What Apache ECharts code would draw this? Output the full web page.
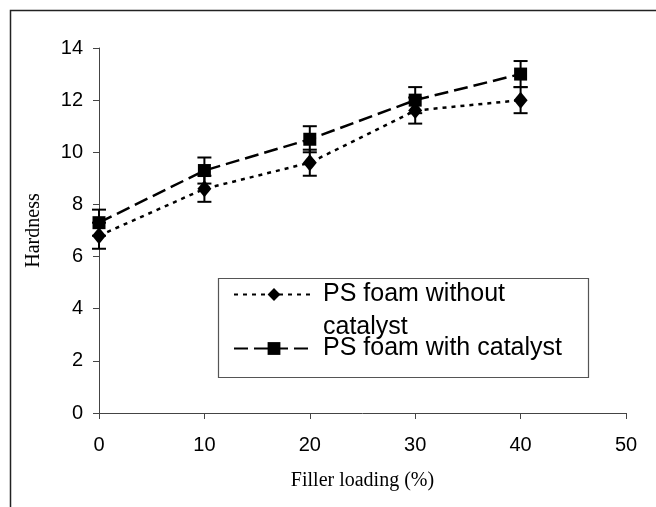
<!DOCTYPE html>
<html>
<head>
<meta charset="utf-8">
<script src="https://cdn.jsdelivr.net/npm/echarts@6/dist/echarts.min.js"></script>
<style>
html, body { margin: 0; padding: 0; background: #fff; }
#chart { width: 656px; height: 507px; }
</style>
</head>
<body>
<div id="chart"></div>
<script>
// values
var loading = [0, 10, 20, 30, 40];
var withoutCat = [6.8, 8.6, 9.6, 11.6, 12.0];
var withCat = [7.3, 9.3, 10.5, 12.0, 13.0];
var errWithout = [0.5, 0.5, 0.5, 0.5, 0.5];
var errWith = [0.5, 0.5, 0.5, 0.5, 0.5];
var seriesNames = ['PS foam without catalyst', 'PS foam with catalyst'];

function pairs(ys) {
    return loading.map(function (x, i) { return [x, ys[i]]; });
}
function errRange(ys, err) {
    return loading.map(function (x, i) { return [x, ys[i] - err[i], ys[i] + err[i]]; });
}

// vertical error bar with caps
function errBar(params, api) {
    var x = api.value(0);
    var lo = api.coord([x, api.value(1)]);
    var hi = api.coord([x, api.value(2)]);
    var w = 7;
    var st = { stroke: '#000', lineWidth: 2 };
    return {
        type: 'group',
        children: [
            { type: 'line', shape: { x1: lo[0], y1: lo[1], x2: hi[0], y2: hi[1] }, style: st },
            { type: 'line', shape: { x1: lo[0] - w, y1: lo[1], x2: lo[0] + w, y2: lo[1] }, style: st },
            { type: 'line', shape: { x1: hi[0] - w, y1: hi[1], x2: hi[0] + w, y2: hi[1] }, style: st }
        ]
    };
}

var axisTxt = { color: '#000', fontFamily: 'Liberation Sans', fontSize: 20 };
var legendTxt = { color: '#000', fontFamily: 'Liberation Sans', fontSize: 25 };

var chart = echarts.init(document.getElementById('chart'));
var option = {
    animation: false,
    backgroundColor: '#fff',
    grid: { left: 99, top: 48, right: 30, bottom: 94 },
    graphic: [
        {
            type: 'rect', z: -10,
            shape: { x: 10.5, y: 10.5, width: 700, height: 600 },
            style: { fill: 'none', stroke: '#222', lineWidth: 1.5 }
        },
        {
            type: 'rect', z: 1,
            shape: { x: 218.5, y: 278.5, width: 370, height: 99 },
            style: { fill: '#fff', stroke: '#555', lineWidth: 1.2 }
        }
    ],
    legend: [
        {
            // empty first line keeps the icon level with "PS foam without"
            data: [{ name: seriesNames[0], textStyle: { lineHeight: 33, padding: [0, 0, 0, 4] } }],
            formatter: function () { return ' \nPS foam without\ncatalyst'; },
            left: 233, top: 245, padding: 0,
            itemWidth: 80, itemHeight: 16,
            textStyle: legendTxt, z: 5
        },
        {
            data: [{ name: seriesNames[1], textStyle: { padding: [0, 0, 0, 4] } }],
            left: 233, top: 336, padding: 0,
            itemWidth: 80, itemHeight: 16,
            textStyle: legendTxt, z: 5
        }
    ],
    xAxis: {
        type: 'value', min: 0, max: 50, interval: 10,
        name: 'Filler loading (%)', nameLocation: 'middle', nameGap: 58,
        nameTextStyle: { color: '#000', fontFamily: 'Liberation Serif', fontSize: 20 },
        axisLine: { onZero: false, lineStyle: { color: '#444', width: 1 } },
        axisTick: { length: 6, lineStyle: { color: '#444' } },
        axisLabel: Object.assign({ margin: 22 }, axisTxt),
        splitLine: { show: false }
    },
    yAxis: {
        type: 'value', min: 0, max: 14, interval: 2,
        name: 'Hardness', nameLocation: 'middle', nameGap: 55,
        nameTextStyle: { color: '#000', fontFamily: 'Liberation Serif', fontSize: 20 },
        axisLine: { show: true, lineStyle: { color: '#444', width: 1 } },
        axisTick: { show: true, length: 6, lineStyle: { color: '#444' } },
        axisLabel: Object.assign({ margin: 16 }, axisTxt),
        splitLine: { show: false }
    },
    series: [
        {
            name: seriesNames[0], type: 'line', data: pairs(withoutCat),
            symbol: 'diamond', symbolSize: [14, 17],
            itemStyle: { color: '#000' },
            lineStyle: { color: '#000', width: 2.5, type: [4, 5] },
            z: 3
        },
        {
            name: seriesNames[1], type: 'line', data: pairs(withCat),
            symbol: 'rect', symbolSize: 13,
            itemStyle: { color: '#000' },
            lineStyle: { color: '#000', width: 2.5, type: [14, 6] },
            z: 3
        },
        {
            type: 'custom', renderItem: errBar, data: errRange(withoutCat, errWithout),
            encode: { x: 0, y: [1, 2] }, z: 4, silent: true
        },
        {
            type: 'custom', renderItem: errBar, data: errRange(withCat, errWith),
            encode: { x: 0, y: [1, 2] }, z: 4, silent: true
        }
    ]
};
chart.setOption(option);
</script>
</body>
</html>
